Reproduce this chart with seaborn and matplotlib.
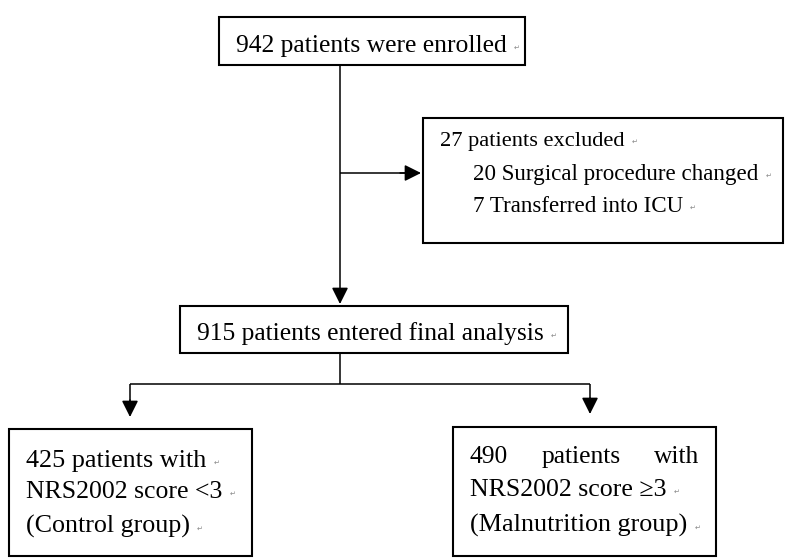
import matplotlib
matplotlib.use("Agg")
import matplotlib.pyplot as plt
from matplotlib.patches import Rectangle, FancyArrowPatch
import seaborn as sns


sns.set_theme(style="white")
plt.rcParams["font.family"] = ["Liberation Serif", "DejaVu Serif"]
plt.rcParams["text.color"] = "black"


# -----------------------------------
# Flowchart data
# -----------------------------------

enrolled = 942
excluded = 27
excluded_reasons = ["Surgical procedure changed", "Transferred into ICU"]
excluded_counts = [20, 7]
analysed = 915
group_counts = [425, 490]
group_scores = ["<3", "\u22653"]
group_names = ["Control group", "Malnutrition group"]


# -----------------------------------
# Layout (pixels, y down)
# -----------------------------------

W, H = 787, 558
FS = 18.4
FS_EXCL = 16.5
MARK = "\u21b5"

boxes = {
    "top": (219, 17, 525, 65),
    "excl": (423, 118, 783, 243),
    "mid": (180, 306, 568, 353),
    "left": (9, 429, 252, 556),
    "right": (453, 427, 716, 556),
}


fig = plt.figure(figsize=(W / 100, H / 100), dpi=100)
ax = fig.add_axes([0, 0, 1, 1])
ax.set_xlim(0, W)
ax.set_ylim(H, 0)
ax.axis("off")

renderer = fig.canvas.get_renderer()


def draw_box(key):
    x0, y0, x1, y1 = boxes[key]
    ax.add_patch(
        Rectangle(
            (x0, y0), x1 - x0, y1 - y0,
            fill=False, edgecolor="black", linewidth=1.5
        )
    )


def put_text(x, y, s, width, fs=FS, mark=True):
    # nudge the font size so the line spans the reference width
    t = ax.text(x, y, s, fontsize=fs, ha="left", va="baseline", color="black")
    bb = t.get_window_extent(renderer=renderer)
    size = fs * width / bb.width
    size = min(max(size, fs - 1.0), fs + 1.0)
    t.set_fontsize(size)
    if mark:
        bb = t.get_window_extent(renderer=renderer)
        ax.text(bb.x1 + 7, y - 2, MARK, fontsize=5, color="#888888",
                ha="left", va="baseline", family="DejaVu Sans")
    return t


def line(xs, ys):
    ax.plot(xs, ys, color="black", linewidth=1.1, solid_capstyle="butt")


def arrow(x0, y0, x1, y1):
    ax.add_patch(
        FancyArrowPatch(
            (x0, y0), (x1, y1),
            arrowstyle="-|>,head_length=1.0,head_width=0.5",
            mutation_scale=10, color="black", linewidth=1.1,
            shrinkA=0, shrinkB=0
        )
    )


# Boxes
for k in boxes:
    draw_box(k)

# Top box
put_text(236, 52, f"{enrolled} patients were enrolled", 271)

# Exclusion box
put_text(440, 146, f"{excluded} patients excluded", 184, fs=FS_EXCL)
put_text(473, 180, f"{excluded_counts[0]} {excluded_reasons[0]}", 284,
         fs=FS_EXCL)
put_text(473, 212, f"{excluded_counts[1]} {excluded_reasons[1]}", 210,
         fs=FS_EXCL)

# Middle box
put_text(197, 340, f"{analysed} patients entered final analysis", 346)

# Left group box
put_text(26, 467, f"{group_counts[0]} patients with", 179)
put_text(26, 498, f"NRS2002 score {group_scores[0]}", 196)
put_text(26, 533, f"({group_names[0]})", 164)

# Right group box (first line justified)
ax.text(470, 463, f"{group_counts[1]}", fontsize=FS, ha="left",
        va="baseline", color="black")
ax.text(581, 463, "patients", fontsize=FS, ha="center",
        va="baseline", color="black")
ax.text(699, 463, "with", fontsize=FS, ha="right",
        va="baseline", color="black")
put_text(470, 496, f"NRS2002 score {group_scores[1]}", 197)
put_text(470, 532, f"({group_names[1]})", 216)

# Connectors
cx = 340
line([cx, cx], [65, 295])
arrow(cx, 290, cx, 304)
line([cx, 405], [173, 173])
arrow(400, 173, 421, 173)

line([cx, cx], [353, 384])
line([130, 590], [384, 384])
line([130, 130], [384, 405])
arrow(130, 400, 130, 417)
line([590, 590], [384, 402])
arrow(590, 398, 590, 414)

fig.savefig("out.png", dpi=100, facecolor="white")
plt.close(fig)
